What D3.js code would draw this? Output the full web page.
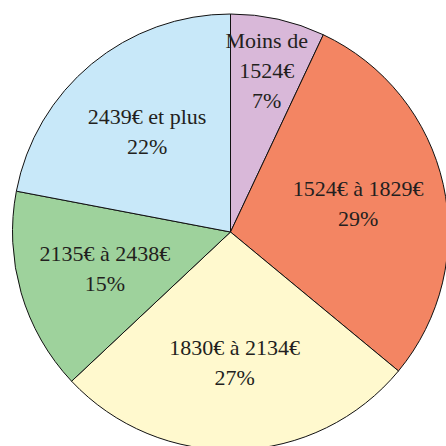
<!DOCTYPE html>
<html>
<head>
<meta charset="utf-8">
<script src="https://cdn.jsdelivr.net/npm/d3@7"></script>
<style>
  html, body { margin: 0; padding: 0; background: #fff; }
  svg { display: block; }
</style>
</head>
<body>
<svg id="chart" width="446" height="446"></svg>
<script>
const categories = ["Moins de 1524€", "1524€ à 1829€", "1830€ à 2134€", "2135€ à 2438€", "2439€ et plus"];
const labelLines = [["Moins de", "1524€"], ["1524€ à 1829€"], ["1830€ à 2134€"], ["2135€ à 2438€"], ["2439€ et plus"]];
const values = [7, 29, 27, 15, 22];
const colors = ["#D9B8D9", "#F38563", "#FFF9CE", "#9ED29C", "#C8E8F9"];

const svg = d3.select("#chart");
const cx = 230.5, cy = 232, R = 218;
const g = svg.append("g").attr("transform", `translate(${cx},${cy})`);

const data = categories.map((c, i) => ({ cat: c, lines: labelLines[i], value: values[i], color: colors[i] }));
const pie = d3.pie().value(d => d.value).sort(null);
const arcs = pie(data);
const arc = d3.arc().innerRadius(0).outerRadius(R);

g.selectAll("path").data(arcs).join("path")
  .attr("d", arc)
  .attr("fill", d => d.data.color)
  .attr("stroke", "#111")
  .attr("stroke-width", 1);

const labelArcBig = d3.arc().innerRadius(R * 0.6).outerRadius(R * 0.6);
const labelArcSmall = d3.arc().innerRadius(R * 0.76).outerRadius(R * 0.76);
const lineH = 30;

arcs.forEach(d => {
  const a = d.data.value < 10 ? labelArcSmall : labelArcBig;
  const [x, y] = a.centroid(d);
  const lines = d.data.lines.concat([d.data.value + "%"]);
  const t = g.append("text")
    .attr("text-anchor", "middle")
    .attr("font-family", "'Liberation Serif', 'Times New Roman', serif")
    .attr("font-size", 22)
    .attr("fill", "#231F20");
  const y0 = y - (lines.length - 1) * lineH / 2;
  lines.forEach((ln, i) => {
    t.append("tspan")
      .attr("x", x)
      .attr("y", y0 + i * lineH)
      .attr("dy", "0.35em")
      .text(ln);
  });
});
</script>
</body>
</html>
